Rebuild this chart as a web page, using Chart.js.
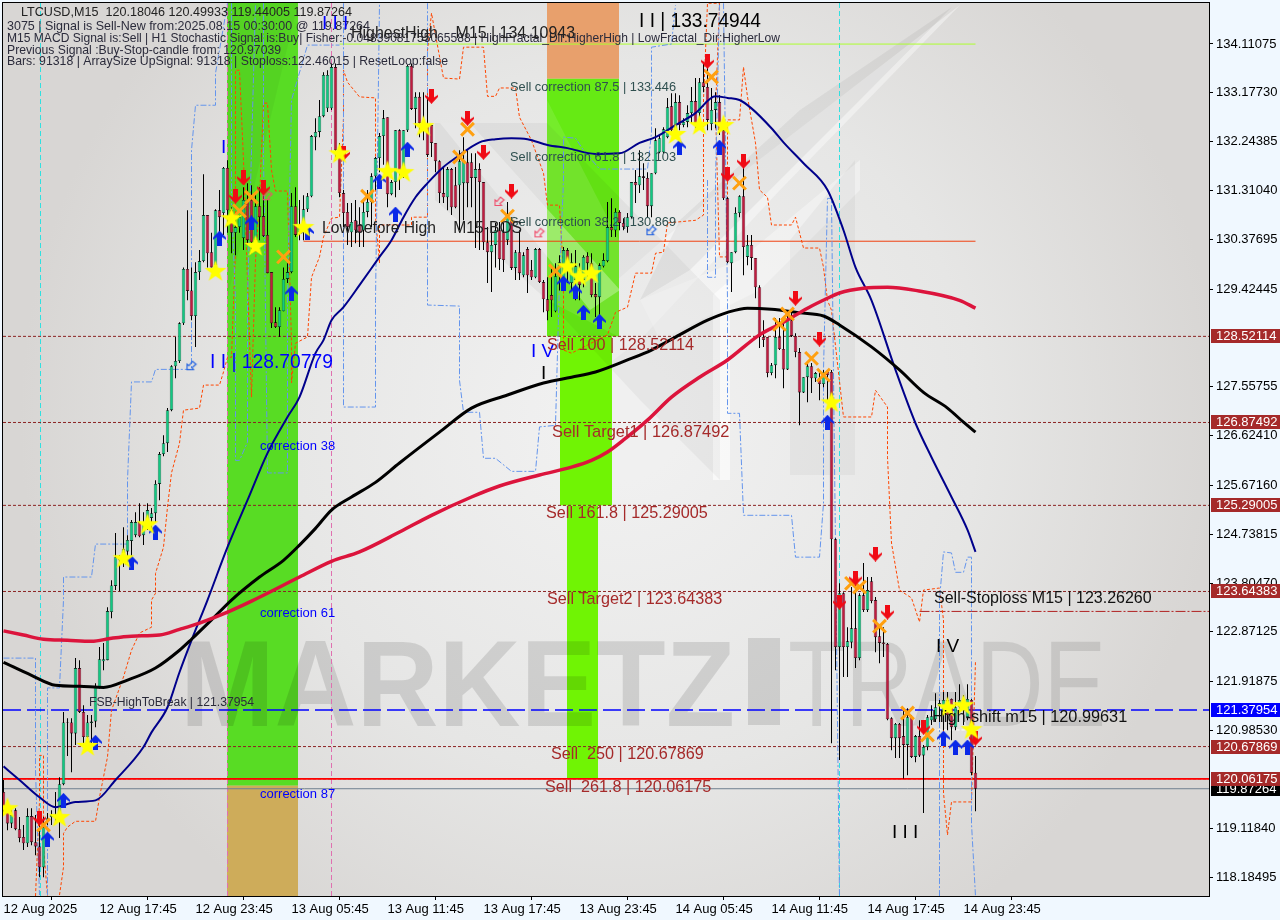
<!DOCTYPE html>
<html>
<head>
<meta charset="utf-8">
<title>LTCUSD,M15</title>
<style>
  html, body { margin: 0; padding: 0; background: #F0F8FF; }
  canvas { display: block; }
</style>
<script src="https://cdn.jsdelivr.net/npm/chart.js@4/dist/chart.umd.min.js"></script>
</head>
<body>
<canvas id="chart" width="1280" height="920"></canvas>
<script>
const opens = [
  119.81,119.50,119.21,119.46,119.10,118.95,118.83,119.35,118.85,118.77,
  118.37,119.27,119.33,119.37,119.33,119.96,121.13,121.14,120.93,122.18,
  121.34,120.86,121.13,121.16,121.81,122.31,122.33,123.25,123.75,124.24,
  124.38,124.41,124.61,124.72,124.97,124.72,124.91,125.05,125.14,125.70,
  126.27,126.48,127.11,127.95,128.05,128.77,129.81,129.40,128.91,129.75,
  129.96,130.84,130.13,129.88,130.93,130.88,131.74,130.93,130.50,130.61,
  130.40,131.13,131.13,130.36,131.01,130.82,130.46,129.75,128.79,128.70,
  129.00,129.62,129.75,131.01,130.51,130.69,130.95,131.20,132.33,132.43,
  132.73,132.88,132.88,133.67,132.08,131.26,130.90,130.51,130.74,130.65,
  130.55,130.90,131.09,131.58,131.93,132.35,132.71,131.24,131.47,132.46,
  131.70,132.46,133.69,132.87,133.10,132.50,132.56,132.56,132.22,131.87,
  131.26,131.18,131.72,131.41,131.41,131.45,131.85,131.85,131.55,131.72,
  131.47,130.32,130.13,130.27,130.55,130.51,130.36,130.74,129.83,130.13,
  129.69,130.19,129.79,129.65,130.19,129.56,129.23,129.31,129.00,129.67,
  129.60,130.17,129.54,129.60,129.79,129.60,130.06,129.92,129.33,129.27,
  129.86,129.96,130.61,130.55,130.90,130.69,130.61,130.80,131.47,131.41,
  131.58,131.55,131.01,131.64,132.04,132.04,132.33,132.92,132.46,133.00,
  132.56,132.62,132.79,133.02,132.79,133.38,133.29,132.58,132.85,133.00,
  132.46,131.16,129.92,130.13,130.88,131.20,130.04,130.27,130.02,129.46,
  128.51,128.51,127.82,127.97,128.51,128.28,127.89,128.83,128.53,128.22,
  127.45,127.74,127.95,127.72,127.72,127.61,127.84,127.84,124.64,122.58,
  123.61,122.58,122.67,122.94,122.37,123.57,123.29,123.84,123.48,122.79,
  122.67,122.64,121.22,120.84,121.11,120.88,120.71,121.24,120.48,120.88,
  120.51,120.67,121.18,121.20,121.45,121.34,121.57,121.59,121.05,121.43,
  121.57,121.24,121.57,120.18
];
const highs = [
  120.04,119.65,119.46,119.50,119.33,119.18,119.50,119.50,119.37,119.33,
  119.33,119.41,119.46,119.81,120.09,121.34,121.22,121.22,122.37,122.33,
  121.47,121.28,121.28,121.89,122.58,122.66,123.34,123.86,124.76,124.34,
  124.87,124.72,125.01,125.16,125.33,125.16,125.33,125.24,125.77,126.31,
  126.63,127.15,127.97,128.51,128.79,129.84,130.93,129.84,129.94,130.17,
  131.62,130.84,130.50,130.95,131.32,131.76,131.89,130.99,130.80,130.84,
  131.37,131.45,131.41,131.28,131.37,131.26,131.13,129.75,129.08,129.08,
  129.84,129.92,131.26,131.37,131.13,131.22,131.26,132.37,132.69,133.04,
  133.57,133.61,133.74,133.74,132.22,131.32,131.07,131.07,131.13,130.99,
  131.13,131.32,131.64,131.95,132.41,132.85,132.71,131.51,132.46,132.48,
  132.46,133.71,133.74,133.19,133.19,133.19,133.10,132.56,132.22,131.89,
  131.76,131.76,131.74,131.76,132.08,132.33,132.08,132.02,132.02,131.83,
  131.47,130.61,130.61,130.69,130.71,130.69,131.09,130.80,130.17,130.55,
  130.13,130.23,129.98,130.21,130.21,129.60,129.65,129.84,129.92,130.07,
  130.23,130.21,130.11,130.17,129.92,130.07,130.13,130.11,129.54,129.92,
  130.11,131.09,131.16,130.97,130.93,130.78,130.88,131.47,131.70,132.08,
  131.83,131.66,131.64,132.50,132.35,132.52,133.08,133.17,133.17,133.13,
  132.69,132.94,133.29,133.46,133.46,133.74,133.80,133.27,133.19,133.13,
  132.56,131.18,130.13,130.99,131.22,131.76,130.46,130.46,130.02,129.50,
  128.83,128.51,128.01,128.87,128.87,128.79,129.02,128.98,128.58,128.30,
  127.74,128.01,128.01,127.84,127.84,127.88,127.88,127.88,124.66,123.80,
  123.63,122.96,123.73,124.00,123.61,124.19,123.92,123.92,123.54,123.00,
  122.96,122.66,121.24,121.13,121.13,121.38,121.41,121.28,120.90,121.18,
  120.71,121.28,121.47,121.70,121.57,121.72,121.72,121.60,121.72,121.87,
  121.66,121.87,121.59,120.50
];
const lows = [
  119.41,119.08,119.12,119.08,118.85,118.70,118.76,118.79,118.60,118.18,
  118.18,119.18,119.18,119.23,118.93,119.94,120.50,120.19,120.71,121.32,
  120.74,120.71,120.74,121.05,121.79,122.14,122.33,123.13,123.67,123.65,
  124.11,124.24,124.30,124.68,124.68,124.53,124.82,124.82,124.97,125.39,
  126.23,126.31,127.09,127.72,128.01,128.74,129.21,128.83,128.32,129.60,
  129.94,129.84,129.84,129.84,130.42,130.46,130.50,130.11,130.07,130.50,
  130.17,130.30,130.11,130.27,130.36,130.42,129.73,128.68,128.68,128.51,
  129.00,129.54,129.73,130.42,130.36,130.36,130.90,131.18,132.08,132.33,
  132.71,132.81,132.85,131.89,131.18,130.61,130.27,130.23,130.30,130.23,
  130.23,130.80,130.61,131.32,131.66,131.80,130.99,131.22,131.18,131.32,
  131.55,132.43,132.85,132.50,132.33,132.27,131.95,131.95,131.66,131.07,
  131.07,130.93,130.84,130.97,130.55,130.74,130.99,130.99,130.21,130.17,
  130.17,129.54,129.37,129.84,129.79,129.75,130.27,129.79,129.60,129.60,
  129.65,129.35,129.60,129.63,129.54,128.98,128.83,128.89,128.98,129.40,
  129.54,129.54,129.40,129.21,129.21,129.46,129.65,129.27,128.89,128.89,
  129.84,129.94,130.42,130.42,130.55,130.55,130.50,130.78,131.07,131.26,
  131.32,130.80,130.80,131.62,132.02,132.02,132.31,132.41,132.41,132.46,
  132.52,132.52,132.60,132.50,132.50,133.19,132.46,132.46,132.50,132.37,
  131.13,129.92,129.37,130.11,130.80,129.69,129.88,129.79,129.25,128.30,
  128.32,127.74,127.78,127.72,128.26,127.53,127.88,128.51,128.12,126.82,
  127.44,127.26,127.44,127.65,127.30,127.55,127.30,120.74,122.14,120.42,
  122.01,122.01,122.56,122.18,122.33,123.25,123.25,123.42,122.48,122.27,
  122.39,121.18,120.61,120.46,120.46,120.07,120.13,120.46,120.38,120.48,
  119.41,120.61,121.09,121.15,121.15,120.99,120.99,120.80,120.99,121.34,
  121.09,121.18,120.13,119.44
];
const closes = [
  119.52,119.21,119.37,119.10,118.93,118.83,119.35,118.85,118.77,118.37,
  119.14,119.31,119.37,119.33,119.96,121.14,121.14,120.93,122.18,121.34,
  120.86,121.14,121.16,121.81,122.35,122.35,123.27,123.76,124.30,124.30,
  124.45,124.63,124.97,124.97,124.70,124.97,125.20,125.14,125.70,126.27,
  126.48,127.11,127.95,128.05,128.77,129.81,129.39,128.91,129.75,129.96,
  130.84,130.11,129.84,130.93,130.80,131.74,130.93,130.50,130.61,130.80,
  131.13,130.36,130.32,131.01,130.80,130.44,129.73,128.77,128.70,129.02,
  129.62,129.75,131.01,130.46,130.65,130.95,131.20,132.35,132.43,132.73,
  133.52,133.52,133.67,132.08,131.26,130.88,130.61,130.71,130.55,130.51,
  130.90,131.09,131.58,131.93,132.35,132.69,131.24,131.47,132.46,131.66,
  132.46,133.69,132.87,133.10,132.60,132.62,131.99,132.22,131.87,131.26,
  131.18,131.72,130.99,130.99,131.87,131.87,131.45,131.55,131.72,131.47,
  130.32,130.13,130.27,130.55,130.00,129.98,130.84,129.83,130.13,129.73,
  130.07,129.69,129.65,130.19,129.56,129.23,129.00,129.21,129.67,129.94,
  130.17,129.84,129.94,129.86,129.50,130.04,129.92,129.31,129.27,129.88,
  129.98,130.61,130.55,130.90,130.69,130.61,130.80,131.47,131.41,131.58,
  131.55,131.01,131.64,132.27,132.31,132.48,132.90,132.46,133.00,132.56,
  132.62,132.79,133.02,132.60,133.38,133.29,132.66,132.85,133.00,132.46,
  131.16,129.94,130.13,130.88,131.20,130.23,130.27,130.02,129.46,128.51,
  128.45,127.82,127.97,128.51,128.28,127.89,128.83,128.53,128.22,127.45,
  127.74,127.95,127.72,127.82,127.61,127.84,127.78,124.64,122.58,123.61,
  122.58,122.69,122.94,122.37,123.57,123.29,123.67,123.46,122.77,122.66,
  122.64,121.20,120.84,121.11,120.84,120.71,121.24,120.48,120.88,120.51,
  120.67,121.24,121.26,121.43,121.51,121.57,121.28,121.05,121.43,121.57,
  121.38,121.59,120.18,119.87
];

// moving averages: bar index + price
const navyIdx = [0,4,9,13,18,23,28,35,37,41,44,47,51,56,61,66,71,74,78,80,82,85,89,94,97,100,103,106,110,113,119,123,127,131,136,141,148,154,159,163,168,173,178,181,184,187,192,195,200,206,210,213,217,223,228,232,237,241,243];
const navyVal = [120.30,120.04,119.71,119.52,119.62,119.65,120.04,120.67,120.95,121.43,122.10,122.71,123.48,124.49,125.39,126.29,126.98,127.36,128.20,128.45,128.83,129.08,129.50,130.04,130.36,130.80,131.18,131.45,131.76,131.93,132.23,132.29,132.31,132.29,132.18,132.12,132.01,132.02,132.22,132.33,132.56,132.79,133.11,133.08,133.04,132.88,132.50,132.23,131.83,131.32,130.55,129.84,129.21,127.88,126.86,126.21,125.45,124.82,124.40];
const blackIdx = [0,7,13,19,25,31,38,44,47,52,57,64,70,74,78,82,87,93,99,109,117,126,135,142,148,156,162,169,176,181,186,192,199,205,209,217,224,230,236,240,243];
const blackVal = [122.29,122.04,121.85,121.83,121.81,121.95,122.18,122.52,122.73,123.10,123.48,123.92,124.24,124.53,124.85,125.20,125.45,125.73,126.10,126.69,127.15,127.40,127.63,127.74,127.84,128.07,128.26,128.55,128.83,128.98,129.06,129.04,128.97,128.91,128.74,128.32,127.88,127.45,127.15,126.88,126.69];
const crimsonIdx = [0,5,10,16,22,27,32,39,44,49,56,62,74,82,89,99,107,117,124,134,142,147,151,155,161,167,174,181,189,195,201,206,209,215,221,228,239,243];
const crimsonVal = [122.89,122.81,122.73,122.71,122.69,122.75,122.79,122.81,122.92,123.04,123.25,123.46,123.92,124.22,124.40,124.78,125.10,125.45,125.66,125.87,126.02,126.15,126.31,126.54,126.92,127.36,127.74,128.07,128.55,128.79,129.06,129.25,129.35,129.44,129.46,129.40,129.21,129.06];

// stepped channel lines, null = gap
const orangeIdx = [8,9,9,10,10,11,11,14,15,15,16,18,23,24,26,27,30,32,34,37,37,38,38,40,41,42,44,45,49,50,54,55,56,57,58,58,59,60,61,62,63,64,65,66,67,68,71,72,72,73,76,77,79,80,82,84,85,85,86,89,93,93,94,94,102,102,106,106,106,107,110,114,115,120,121,123,124,128,129,132,135,136,139,140,140,142,151,153,156,158,162,163,165,166,173,175,175,176,179,178,179,181,181,184,185,186,188,189,191,192,197,198,200,204,205,206,207,210,217,218,221,221,222,224,227,229,230,234,235,235,236,237,242,243];
const orangeVal = [117.82,119.65,120.51,120.51,118.76,117.82,null,117.84,118.37,119.02,119.14,119.25,119.25,119.71,120.48,121.37,122.01,122.52,122.85,122.96,123.48,123.61,123.99,124.49,125.26,125.91,126.48,127.11,127.15,127.59,127.59,127.84,128.12,128.12,130.17,133.61,133.61,131.89,129.60,127.36,129.98,131.13,132.98,132.98,131.70,131.30,131.30,128.39,127.63,128.39,128.51,129.65,130.04,130.42,130.78,130.80,132.71,133.61,133.38,133.10,133.08,130.80,129.92,130.65,130.65,130.80,130.80,132.08,133.99,134.70,133.46,133.44,134.05,134.05,133.11,133.11,133.27,133.27,132.71,132.27,131.64,131.03,131.03,129.73,128.26,128.20,128.55,128.98,129.08,129.73,129.73,130.11,130.13,130.69,130.74,130.84,133.04,134.89,134.89,132.85,130.04,130.04,132.66,132.66,133.67,133.10,132.22,131.32,131.18,130.65,130.65,130.80,130.21,130.21,129.84,129.21,129.02,126.98,126.98,127.49,127.17,126.21,124.57,123.67,123.52,123.06,123.67,123.71,123.10,119.79,118.99,119.62,119.62,122.33];
const blueIdx = [0,8,8,9,9,11,11,14,15,15,22,23,31,31,32,37,38,47,47,48,53,53,56,56,57,57,58,58,59,61,61,62,63,63,65,65,66,71,71,72,76,84,84,85,85,93,93,94,94,106,106,106,114,114,115,119,120,123,127,133,134,138,139,140,140,143,145,149,161,162,162,162,167,168,168,176,176,178,178,179,179,180,181,181,184,185,197,198,204,205,205,206,207,209,209,234,234,235,237,238,240,241,242,242,243];
const blueVal = [122.37,122.37,120.23,117.84,null,117.84,121.80,121.80,123.48,123.92,123.92,124.55,124.55,125.77,127.65,127.65,127.89,127.89,132.08,132.94,132.94,133.55,134.89,null,134.89,131.13,129.21,126.15,126.15,126.50,129.21,132.08,134.89,null,134.89,132.08,125.91,125.91,129.21,133.04,134.09,134.09,null,134.89,127.17,127.17,129.21,134.89,null,134.89,129.97,129.12,129.10,127.68,127.07,127.07,126.19,126.19,125.94,125.94,126.79,126.82,129.60,131.51,132.33,132.31,132.08,131.72,131.72,132.41,133.94,134.05,134.11,134.85,null,131.51,129.65,129.65,131.51,134.89,null,134.89,129.21,127.05,127.05,125.10,125.10,124.30,124.30,125.33,127.88,131.16,131.16,117.82,null,117.82,123.48,124.40,124.38,124.01,124.01,124.30,124.30,119.20,117.82];

// signal markers
const starIdx = [1,14,30,36,21,53,57,63,75,84,96,100,105,141,144,147,168,174,180,207,236,240,242];
const starVal = [119.50,119.33,124.28,124.93,120.69,129.77,130.78,130.25,130.61,132.02,131.68,131.66,132.54,129.86,129.67,129.73,132.39,132.56,132.56,127.26,121.43,121.47,121.01];
const upIdx = [15,11,23,32,38,54,62,72,76,94,101,98,140,143,145,149,169,179,206,235,238,241];
const upVal = [119.65,118.91,120.76,124.19,124.78,130.40,130.69,129.35,130.51,131.49,132.10,130.86,129.54,129.37,128.98,128.81,132.14,132.14,126.88,120.84,120.67,120.67];
const downIdx = [9,60,58,65,85,107,116,120,127,176,181,185,198,204,218,213,209,221,230,243];
const downVal = [119.31,131.55,131.20,131.36,132.02,133.11,132.69,132.04,131.30,133.78,131.62,131.87,129.25,128.47,124.36,123.90,123.44,123.25,121.05,120.84];
const crossIdx = [10,62,59,70,91,116,114,126,138,177,184,194,196,202,205,212,214,219,226,231];
const crossVal = [119.18,131.18,130.92,130.04,131.20,132.48,131.95,130.82,129.77,133.48,131.45,128.75,128.95,128.10,127.78,123.80,123.73,122.98,121.32,120.90];
const hollowRedIdx = [124,134,66];
const hollowRedVal = [131.11,130.51,131.22];
const hollowBlueIdx = [162,47];
const hollowBlueVal = [130.55,127.97];

// levels
const sellLevels = [128.52114,126.87492,125.29005,123.64383,120.67869,120.06175];
const fsbLevel = 121.37954;
const lastPrice = 119.87264;
const stoplossLevel = 123.26260;
const lowBeforeHigh = 130.34;
const highestHigh = 134.10943;
const highShift = 120.99631;

// axes
const priceTicks = [134.11075,133.17730,132.24385,131.31040,130.37695,129.42445,127.55755,126.62410,125.67160,124.73815,123.80470,122.87125,121.91875,120.98530,119.11840,118.18495];
const timeTicks = [0,24,48,72,96,120,144,168,192,216,240];
const timeLabels = ['12 Aug 2025','12 Aug 17:45','12 Aug 23:45','13 Aug 05:45','13 Aug 11:45','13 Aug 17:45','13 Aug 23:45','14 Aug 05:45','14 Aug 11:45','14 Aug 17:45','14 Aug 23:45'];

const FONT = '"Liberation Sans", Arial, sans-serif';
const pts = (xs, ys) => xs.map((x, i) => ({ x, y: ys[i] }));

function markerCanvas(w, h, paint) {
  const c = document.createElement('canvas');
  c.width = w; c.height = h;
  paint(c.getContext('2d'));
  return c;
}
function arrowPath(g, dir) {
  // 13x15 arrow, dir 1 = up, -1 = down
  g.save();
  if (dir < 0) { g.translate(0, 15); g.scale(1, -1); }
  g.beginPath();
  g.moveTo(6.5, 0); g.lineTo(13, 7); g.lineTo(13, 9); g.lineTo(9, 6.5); g.lineTo(9, 15);
  g.lineTo(4, 15); g.lineTo(4, 6.5); g.lineTo(0, 9); g.lineTo(0, 7);
  g.closePath();
  g.fill();
  g.restore();
}
const starImg = markerCanvas(24, 24, g => {
  g.fillStyle = '#FFFF00';
  g.beginPath();
  for (let i = 0; i < 10; i++) {
    const r = i % 2 ? 4.6 : 11.5, a = -Math.PI / 2 + i * Math.PI / 5;
    g.lineTo(12 + r * Math.cos(a), 12.5 + r * Math.sin(a));
  }
  g.closePath();
  g.fill();
});
const upImg = markerCanvas(13, 15, g => { g.fillStyle = '#0A28E8'; arrowPath(g, 1); });
const downImg = markerCanvas(13, 15, g => { g.fillStyle = '#F00A14'; arrowPath(g, -1); });
function hollowImg(color) {
  return markerCanvas(12, 12, g => {
    g.strokeStyle = color; g.lineWidth = 1.2;
    g.beginPath();
    g.moveTo(1.5, 10.5); g.lineTo(1.5, 5); g.lineTo(3.5, 6.5); g.lineTo(7, 2); g.lineTo(10.5, 5); g.lineTo(6.5, 8.5); g.lineTo(8, 10.5);
    g.closePath();
    g.stroke();
  });
}

function hline(value, color, width, dash, from, to, order) {
  return {
    type: 'line',
    data: [{ x: from, y: value }, { x: to, y: value }],
    borderColor: color, borderWidth: width, borderDash: dash,
    pointRadius: 0, order
  };
}
function marks(xs, ys, style, extra) {
  return Object.assign({
    type: 'line', data: pts(xs, ys), showLine: false,
    pointStyle: style, pointRadius: 8, order: 1
  }, extra || {});
}
function curve(xs, ys, color, width, order, dash) {
  return {
    type: 'line', data: pts(xs, ys), borderColor: color, borderWidth: width,
    borderDash: dash || [], pointRadius: 0, tension: 0, spanGaps: false, order
  };
}
function smooth(xs, ys, color, width, order) {
  return Object.assign(curve(xs, ys, color, width, order), { cubicInterpolationMode: 'monotone' });
}

const XMAX = 301.375;
const datasets = [];
sellLevels.forEach(v => datasets.push(hline(v, '#8B2323', 1, [3, 2], -0.125, XMAX, 20)));
datasets.push(hline(120.06175, '#FF0000', 1.6, [], -0.125, XMAX, 19));
datasets.push(hline(lastPrice, '#708090', 1, [], -0.125, XMAX, 19));
datasets.push(hline(fsbLevel, '#0000FF', 1.5, [18, 6], -0.125, XMAX, 19));
datasets.push(hline(lowBeforeHigh, '#F04010', 1, [], 75, 243, 19));
datasets.push(hline(highestHigh, '#ADFF2F', 1, [], 84, 243, 19));
datasets.push(hline(stoplossLevel, '#B02020', 1, [10, 2, 2, 2], 229, XMAX, 19));
datasets.push(hline(highShift, '#FFFFFF', 1, [4, 2], 229, 242, 19));
datasets.push(curve(orangeIdx, orangeVal, '#FF4500', 1, 18, [3, 2]));
datasets.push(curve(blueIdx, blueVal, '#6495ED', 1, 17, [6, 2, 2, 2]));
// wicks and bodies
datasets.push({
  type: 'bar', data: opens.map((o, i) => ({ x: i, y: [lows[i], highs[i]] })),
  backgroundColor: '#000', barThickness: 1, inflateAmount: 0, grouped: false, order: 10
});
datasets.push({
  type: 'bar', data: opens.map((o, i) => ({ x: i, y: [o, closes[i]] })),
  backgroundColor: opens.map((o, i) => closes[i] >= o ? '#12C882' : '#C01C40'),
  borderColor: '#000', borderWidth: 0.6, borderSkipped: false, inflateAmount: 0,
  barThickness: 3.4, grouped: false, order: 9
});
datasets.push(smooth(navyIdx, navyVal, '#00008B', 2, 5));
datasets.push(smooth(blackIdx, blackVal, '#000000', 3, 4));
datasets.push(smooth(crimsonIdx, crimsonVal, '#DC143C', 3.5, 3));
datasets.push(marks(crossIdx, crossVal, 'crossRot', { pointRadius: 9, pointBorderWidth: 3, pointBorderColor: '#FFA010', order: 2 }));
datasets.push(marks(upIdx, upVal, upImg));
datasets.push(marks(downIdx, downVal, downImg));
datasets.push(marks(hollowRedIdx, hollowRedVal, hollowImg('#F0506E')));
datasets.push(marks(hollowBlueIdx, hollowBlueVal, hollowImg('#2060E0')));
datasets.push(marks(starIdx, starVal, starImg, { order: 0 }));

// coloured retracement zones: [bar from, bar to, price top, price bottom, colour]
const zones = [
  [55.875, 73.625, 134.9, 119.93, '#58DC24'],
  [55.875, 73.625, 119.93, 117.8, '#CEAC5A'],
  [135.875, 153.875, 134.9, 133.446, '#E8A06C'],
  [135.875, 153.875, 133.446, 128.52114, '#66EA14'],
  [139.125, 152.125, 128.52114, 125.29005, '#70F404'],
  [140.875, 148.625, 125.29005, 120.06175, '#70F404']
];
// vertical markers: [bar, colour]
const vlines = [[9, '#30E0E0'], [208.9, '#30E0E0'], [55.875, '#E070B0'], [81.9, '#E070B0']];

// text, x, y, size, colour, max width
const texts = [
  ['LTCUSD,M15  120.18046 120.49933 119.44005 119.87264', 21, 12, 13, '#222', 331],
  ['3075 | Signal is Sell-New from:2025.08.15 00:30:00 @ 119.87264', 7, 26, 13, '#2b2b3b', 363],
  ['M15 MACD Signal is:Sell | H1 Stochastic Signal is:Buy| Fisher:-0.04839081755065588 | HighFractal_Dir:HigherHigh | LowFractal_Dir:HigherLow', 7, 38, 13, '#2b2b3b', 773],
  ['Previous Signal :Buy-Stop-candle from: 120.97039', 7, 50, 13, '#2b2b3b', 274],
  ['Bars: 91318 | ArraySize UpSignal: 91318 | Stoploss:122.46015 | ResetLoop:false', 7, 61, 13, '#2b2b3b', 441],
  ['I', 221, 148, 19, '#0000FF'],
  ['I I I', 322, 24, 19, '#0000FF'],
  ['HighestHigh    M15 | 134.10943', 351, 33, 16.5, '#222', 224],
  ['I I | 133.74944', 639, 21, 20, '#000', 122],
  ['Sell correction 87.5 | 133.446', 510, 87, 13.5, '#2F4F4F', 166],
  ['Sell correction 61.8 | 132.103', 510, 157, 13.5, '#2F4F4F', 166],
  ['Sell correction 38.2 | 130.869', 510, 222, 13.5, '#2F4F4F', 166],
  ['Low before High    M15-BOS', 322, 229, 16, '#222', 200],
  ['I I | 128.70779', 210, 362, 20, '#0000FF', 123],
  ['I V', 531, 352, 19, '#0000FF'],
  ['I', 541, 374, 19, '#000'],
  ['Sell 100 | 128.52114', 547, 346, 16.2, '#A52A2A'],
  ['Sell Target1 | 126.87492', 552, 432, 16.4, '#A52A2A'],
  ['Sell 161.8 | 125.29005', 546, 514, 16.2, '#A52A2A'],
  ['Sell Target2 | 123.64383', 547, 600, 16.2, '#A52A2A'],
  ['Sell  250 | 120.67869', 551, 755, 16.2, '#A52A2A'],
  ['Sell  261.8 | 120.06175', 545, 788, 16.2, '#A52A2A'],
  ['correction 38', 260, 446, 13, '#0000FF'],
  ['correction 61', 260, 613, 13, '#0000FF'],
  ['correction 87', 260, 794, 13, '#0000FF'],
  ['FSB-HighToBreak | 121.37954', 89, 703, 12.5, '#2b2b3b', 165],
  ['Sell-Stoploss M15 | 123.26260', 934, 599, 16, '#111'],
  ['High-shift m15 | 120.99631', 932, 718, 16.3, '#111'],
  ['I V', 936, 647, 19, '#000'],
  ['I I I', 892, 833, 19, '#000']
];
// price tags on the right axis: [value, colour]
const tags = [
  [128.52114, '#A52A2A'], [126.87492, '#A52A2A'], [125.29005, '#A52A2A'],
  [119.87264, '#000000'], [123.64383, '#A52A2A'], [120.67869, '#A52A2A'],
  [121.37954, '#0000FF'], [120.06175, '#A52A2A']
];

function poly(ctx, color, p) {
  ctx.fillStyle = color;
  ctx.beginPath();
  p.forEach(q => ctx.lineTo(q[0], q[1]));
  ctx.closePath();
  ctx.fill();
}

const backdrop = {
  id: 'backdrop',
  beforeDatasetsDraw(chart) {
    const { ctx, chartArea: a, scales: { x, y } } = chart;
    ctx.save();
    ctx.beginPath();
    ctx.rect(a.left, a.top, a.width, a.height);
    ctx.clip();
    const rg = ctx.createRadialGradient(620, 420, 60, 620, 420, 600);
    rg.addColorStop(0, '#F0F0F0');
    rg.addColorStop(0.55, '#E6E6E5');
    rg.addColorStop(1, '#D8D6D4');
    ctx.fillStyle = rg;
    ctx.fillRect(a.left, a.top, a.width, a.height);

    // light swooshes of the logo behind everything
    poly(ctx, 'rgba(255,255,255,.4)', [[560, 330], [720, 190], [960, 5], [780, 190], [640, 340], [600, 370]]);
    poly(ctx, 'rgba(255,255,255,.35)', [[640, 300], [740, 260], [860, 160], [860, 190], [760, 290], [660, 340]]);
    poly(ctx, 'rgba(255,255,255,.6)', [[713, 295], [730, 280], [730, 480], [713, 480]]);

    zones.forEach(z => {
      ctx.fillStyle = z[4];
      ctx.fillRect(x.getPixelForValue(z[0]), y.getPixelForValue(z[2]),
        x.getPixelForValue(z[1]) - x.getPixelForValue(z[0]),
        y.getPixelForValue(z[3]) - y.getPixelForValue(z[2]));
    });

    // grey logo shapes, tinting zones as well
    poly(ctx, 'rgba(0,0,0,.04)', [[435, 123], [547, 123], [720, 300], [720, 480], [640, 400], [547, 300], [435, 200]]);
    poly(ctx, 'rgba(255,255,255,.3)', [[440, 123], [470, 123], [620, 290], [590, 310]]);
    poly(ctx, 'rgba(0,0,0,.05)', [[952, 7], [860, 100], [690, 270], [640, 300], [680, 220], [800, 110]]);
    poly(ctx, 'rgba(0,0,0,.035)', [[855, 160], [855, 475], [790, 475], [790, 240]]);
    poly(ctx, 'rgba(0,0,0,.04)', [[227, 3], [298, 3], [227, 300]]);
    poly(ctx, 'rgba(255,255,255,.10)', [[547, 100], [619, 240], [619, 337], [547, 300]]);

    // watermark
    ctx.textBaseline = 'alphabetic';
    ctx.fillStyle = 'rgba(0,0,0,.115)';
    ctx.font = 'bold 122px ' + FONT;
    ctx.fillText('MARKETZ', 180, 726, 555);
    ctx.fillRect(748, 638, 32, 87);
    ctx.fillStyle = 'rgba(0,0,0,.10)';
    ctx.font = '122px ' + FONT;
    ctx.fillText('TRADE', 788, 726, 318);

    // vertical dashed markers
    vlines.forEach(v => {
      const px = Math.round(x.getPixelForValue(v[0])) + 0.5;
      ctx.strokeStyle = v[1];
      ctx.lineWidth = 1;
      ctx.setLineDash([5, 3]);
      ctx.beginPath();
      ctx.moveTo(px, a.top);
      ctx.lineTo(px, a.bottom);
      ctx.stroke();
    });
    ctx.restore();
  }
};

const overlay = {
  id: 'overlay',
  afterDraw(chart) {
    const { ctx, chartArea: a, scales: { y } } = chart;
    ctx.save();
    ctx.textBaseline = 'middle';
    ctx.textAlign = 'left';
    texts.forEach(t => {
      ctx.font = t[3] + 'px ' + FONT;
      ctx.fillStyle = t[4];
      ctx.fillText(t[0], t[1], t[2], t[5]);
    });
    // frame
    ctx.strokeStyle = '#000';
    ctx.lineWidth = 1;
    ctx.strokeRect(a.left - 0.5, a.top - 0.5, a.width + 1, a.height + 1);
    // price tags
    ctx.font = '13px ' + FONT;
    tags.forEach(t => {
      const py = Math.round(y.getPixelForValue(t[0]));
      ctx.fillStyle = t[1];
      ctx.fillRect(a.right + 2, py - 7, 69, 14);
      ctx.fillStyle = '#fff';
      ctx.fillText(t[0].toFixed(5), a.right + 7, py + 0.5);
    });
    ctx.restore();
  }
};

new Chart(document.getElementById('chart'), {
  type: 'bar',
  data: { datasets },
  options: {
    responsive: false,
    animation: false,
    layout: { autoPadding: false, padding: { left: 3, top: 3, right: 0, bottom: 0 } },
    plugins: { legend: { display: false }, tooltip: { enabled: false } },
    scales: {
      x: {
        type: 'linear', offset: false, min: -0.125, max: XMAX,
        afterBuildTicks: s => { s.ticks = timeTicks.map(v => ({ value: v })); },
        afterFit: s => { s.height = 24; s.paddingLeft = 0; s.paddingRight = 0; },
        grid: { display: true, drawOnChartArea: false, drawTicks: true, tickLength: 4, color: '#000' },
        border: { display: true, color: '#000' },
        ticks: {
          autoSkip: false, maxRotation: 0, align: 'start', padding: 2,
          color: '#000', font: { family: FONT, size: 13 },
          callback: v => timeLabels[timeTicks.indexOf(v)]
        }
      },
      y: {
        type: 'linear', position: 'right', min: 117.8217, max: 134.8946,
        afterBuildTicks: s => { s.ticks = priceTicks.map(v => ({ value: v })); },
        afterFit: s => { s.width = 71; s.paddingTop = 0; s.paddingBottom = 0; },
        grid: { display: true, drawOnChartArea: false, drawTicks: true, tickLength: 4, color: '#000' },
        border: { display: true, color: '#000' },
        ticks: {
          autoSkip: false, padding: 3, color: '#000',
          font: { family: FONT, size: 13 },
          callback: v => v.toFixed(5)
        }
      }
    }
  },
  plugins: [backdrop, overlay]
});
</script>
</body>
</html>
